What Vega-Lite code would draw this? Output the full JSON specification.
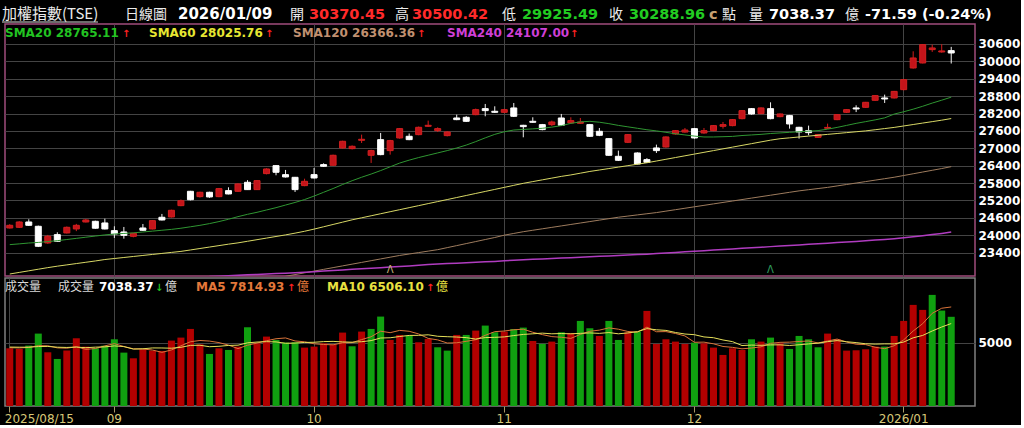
{
"$schema":"https://vega.github.io/schema/vega-lite/v6.json",
"background":"#000000",
"padding":{"left":0,"top":5,"right":0,"bottom":0},
"bounds":"flush",
"spacing":2,
"config":{"view":{"stroke":null},"font":"DejaVu Sans","axis":{"labelFont":"DejaVu Sans","labelOverlap":false}},
"datasets":{
"one":[{}],
"k":[
{"d":"2025/08/15","o":24249,"h":24380,"l":24230,"c":24341,"v":4554,"vd":"up","s20":23674,"s60":22660,"s120":null,"s240":null,"m5":4600,"m10":4650},
{"d":"2025/08/18","o":24272,"h":24480,"l":24250,"c":24456,"v":4502,"vd":"up","s20":23700,"s60":22715,"s120":null,"s240":null,"m5":4580,"m10":4640},
{"d":"2025/08/19","o":24456,"h":24548,"l":24320,"c":24341,"v":4765,"vd":"down","s20":23730,"s60":22770,"s120":null,"s240":null,"m5":4620,"m10":4640},
{"d":"2025/08/20","o":24307,"h":24330,"l":23590,"c":23617,"v":5713,"vd":"down","s20":23750,"s60":22825,"s120":null,"s240":null,"m5":4760,"m10":4690},
{"d":"2025/08/21","o":23731,"h":24010,"l":23700,"c":23962,"v":4238,"vd":"up","s20":23780,"s60":22880,"s120":null,"s240":null,"m5":4754,"m10":4700},
{"d":"2025/08/22","o":24019,"h":24100,"l":23770,"c":23789,"v":3712,"vd":"down","s20":23810,"s60":22930,"s120":null,"s240":null,"m5":4586,"m10":4640},
{"d":"2025/08/25","o":24077,"h":24300,"l":24060,"c":24272,"v":4370,"vd":"up","s20":23850,"s60":22975,"s120":null,"s240":null,"m5":4560,"m10":4620},
{"d":"2025/08/26","o":24215,"h":24390,"l":24140,"c":24341,"v":5344,"vd":"up","s20":23890,"s60":23020,"s120":null,"s240":null,"m5":4675,"m10":4650},
{"d":"2025/08/27","o":24456,"h":24560,"l":24440,"c":24525,"v":4686,"vd":"up","s20":23930,"s60":23065,"s120":null,"s240":null,"m5":4470,"m10":4600},
{"d":"2025/08/28","o":24479,"h":24500,"l":24220,"c":24240,"v":4554,"vd":"down","s20":23970,"s60":23110,"s120":null,"s240":null,"m5":4533,"m10":4644},
{"d":"2025/08/29","o":24422,"h":24571,"l":24200,"c":24215,"v":4765,"vd":"down","s20":24010,"s60":23160,"s120":null,"s240":null,"m5":4744,"m10":4665},
{"d":"2025/09/01","o":24157,"h":24307,"l":23904,"c":24042,"v":5265,"vd":"down","s20":24040,"s60":23195,"s120":null,"s240":null,"m5":4923,"m10":4742},
{"d":"2025/09/02","o":24111,"h":24284,"l":23881,"c":23996,"v":4212,"vd":"down","s20":24060,"s60":23230,"s120":null,"s240":null,"m5":4696,"m10":4686},
{"d":"2025/09/03","o":23960,"h":24080,"l":23927,"c":24065,"v":3764,"vd":"up","s20":24080,"s60":23265,"s120":null,"s240":null,"m5":4512,"m10":4491},
{"d":"2025/09/04","o":24249,"h":24387,"l":24150,"c":24169,"v":4475,"vd":"up","s20":24110,"s60":23300,"s120":null,"s240":null,"m5":4496,"m10":4515},
{"d":"2025/09/05","o":24215,"h":24520,"l":24200,"c":24502,"v":4370,"vd":"up","s20":24140,"s60":23335,"s120":null,"s240":null,"m5":4417,"m10":4581},
{"d":"2025/09/08","o":24618,"h":24733,"l":24510,"c":24525,"v":4343,"vd":"up","s20":24170,"s60":23370,"s120":null,"s240":null,"m5":4233,"m10":4578},
{"d":"2025/09/09","o":24629,"h":24880,"l":24610,"c":24859,"v":5160,"vd":"up","s20":24200,"s60":23405,"s120":null,"s240":null,"m5":4422,"m10":4559},
{"d":"2025/09/10","o":25020,"h":25230,"l":25000,"c":25190,"v":5397,"vd":"up","s20":24240,"s60":23440,"s120":null,"s240":null,"m5":4749,"m10":4631},
{"d":"2025/09/11","o":25515,"h":25530,"l":25200,"c":25225,"v":6081,"vd":"up","s20":24290,"s60":23490,"s120":null,"s240":null,"m5":5070,"m10":4783},
{"d":"2025/09/12","o":25331,"h":25500,"l":25300,"c":25481,"v":4870,"vd":"up","s20":24340,"s60":23540,"s120":null,"s240":null,"m5":5170,"m10":4794},
{"d":"2025/09/15","o":25481,"h":25500,"l":25290,"c":25320,"v":4107,"vd":"down","s20":24400,"s60":23590,"s120":null,"s240":22570,"m5":5123,"m10":4678},
{"d":"2025/09/16","o":25331,"h":25630,"l":25310,"c":25607,"v":4554,"vd":"up","s20":24470,"s60":23640,"s120":null,"s240":22585,"m5":5002,"m10":4712},
{"d":"2025/09/17","o":25538,"h":25653,"l":25410,"c":25423,"v":4423,"vd":"down","s20":24550,"s60":23690,"s120":null,"s240":22600,"m5":4807,"m10":4778},
{"d":"2025/09/18","o":25515,"h":25790,"l":25500,"c":25768,"v":4686,"vd":"up","s20":24640,"s60":23735,"s120":null,"s240":22615,"m5":4528,"m10":4799},
{"d":"2025/09/19","o":25826,"h":25900,"l":25560,"c":25573,"v":6213,"vd":"down","s20":24720,"s60":23790,"s120":null,"s240":22630,"m5":4797,"m10":4984},
{"d":"2025/09/22","o":25573,"h":25900,"l":25560,"c":25883,"v":4949,"vd":"up","s20":24790,"s60":23845,"s120":null,"s240":22645,"m5":4965,"m10":5044},
{"d":"2025/09/23","o":26125,"h":26310,"l":26100,"c":26286,"v":5476,"vd":"up","s20":24870,"s60":23900,"s120":null,"s240":22660,"m5":5149,"m10":5076},
{"d":"2025/09/24","o":26401,"h":26420,"l":26068,"c":26171,"v":5212,"vd":"down","s20":24950,"s60":23955,"s120":22530,"s240":22675,"m5":5307,"m10":5057},
{"d":"2025/09/25","o":26090,"h":26252,"l":25990,"c":26010,"v":5002,"vd":"down","s20":25040,"s60":24010,"s120":22580,"s240":22690,"m5":5370,"m10":4949},
{"d":"2025/09/26","o":25998,"h":26010,"l":25492,"c":25573,"v":5028,"vd":"down","s20":25130,"s60":24070,"s120":22640,"s240":22705,"m5":5133,"m10":4965},
{"d":"2025/09/30","o":25711,"h":25950,"l":25690,"c":25860,"v":4607,"vd":"up","s20":25230,"s60":24135,"s120":22700,"s240":22720,"m5":5065,"m10":5015},
{"d":"2025/10/01","o":26090,"h":26321,"l":25960,"c":25975,"v":4686,"vd":"up","s20":25350,"s60":24210,"s120":22760,"s240":22740,"m5":4907,"m10":5028},
{"d":"2025/10/02","o":26436,"h":26480,"l":26360,"c":26378,"v":4949,"vd":"up","s20":25480,"s60":24290,"s120":22820,"s240":22760,"m5":4854,"m10":5081},
{"d":"2025/10/03","o":26413,"h":26780,"l":26400,"c":26758,"v":4870,"vd":"up","s20":25610,"s60":24370,"s120":22880,"s240":22780,"m5":4828,"m10":5099},
{"d":"2025/10/07","o":27011,"h":27260,"l":26990,"c":27241,"v":5792,"vd":"up","s20":25750,"s60":24450,"s120":22940,"s240":22800,"m5":4981,"m10":5057},
{"d":"2025/10/08","o":26988,"h":27100,"l":26960,"c":27068,"v":4712,"vd":"down","s20":25880,"s60":24530,"s120":23000,"s240":22820,"m5":5002,"m10":5034},
{"d":"2025/10/09","o":27275,"h":27471,"l":27183,"c":27310,"v":5871,"vd":"up","s20":26000,"s60":24600,"s120":23060,"s240":22840,"m5":5239,"m10":5073},
{"d":"2025/10/13","o":26758,"h":26950,"l":26493,"c":26919,"v":6081,"vd":"down","s20":26110,"s60":24670,"s120":23120,"s240":22860,"m5":5465,"m10":5160},
{"d":"2025/10/14","o":27298,"h":27529,"l":26760,"c":26781,"v":7056,"vd":"down","s20":26230,"s60":24740,"s120":23180,"s240":22880,"m5":5902,"m10":5365},
{"d":"2025/10/15","o":26919,"h":27290,"l":26780,"c":27264,"v":5212,"vd":"up","s20":26360,"s60":24810,"s120":23240,"s240":22900,"m5":5786,"m10":5384},
{"d":"2025/10/16","o":27356,"h":27700,"l":27330,"c":27678,"v":5607,"vd":"up","s20":26490,"s60":24880,"s120":23300,"s240":22920,"m5":5965,"m10":5484},
{"d":"2025/10/17","o":27414,"h":27510,"l":27280,"c":27298,"v":5528,"vd":"down","s20":26590,"s60":24950,"s120":23350,"s240":22940,"m5":5897,"m10":5568},
{"d":"2025/10/20","o":27471,"h":27750,"l":27450,"c":27724,"v":5028,"vd":"up","s20":26680,"s60":25020,"s120":23400,"s240":22960,"m5":5686,"m10":5576},
{"d":"2025/10/21","o":27759,"h":27954,"l":27740,"c":27793,"v":5291,"vd":"up","s20":26760,"s60":25090,"s120":23450,"s240":22985,"m5":5333,"m10":5618},
{"d":"2025/10/22","o":27609,"h":27724,"l":27563,"c":27678,"v":4633,"vd":"down","s20":26840,"s60":25160,"s120":23500,"s240":23005,"m5":5217,"m10":5502},
{"d":"2025/10/23","o":27437,"h":27590,"l":27410,"c":27563,"v":4370,"vd":"down","s20":26920,"s60":25230,"s120":23570,"s240":23020,"m5":4970,"m10":5468},
{"d":"2025/10/27","o":28046,"h":28161,"l":27970,"c":27989,"v":5607,"vd":"up","s20":27010,"s60":25300,"s120":23640,"s240":23035,"m5":4986,"m10":5442},
{"d":"2025/10/28","o":28069,"h":28110,"l":27910,"c":27931,"v":5607,"vd":"down","s20":27110,"s60":25370,"s120":23710,"s240":23050,"m5":5102,"m10":5394},
{"d":"2025/10/29","o":28161,"h":28370,"l":28140,"c":28334,"v":5950,"vd":"up","s20":27230,"s60":25440,"s120":23780,"s240":23065,"m5":5233,"m10":5283},
{"d":"2025/10/30","o":28369,"h":28530,"l":28104,"c":28300,"v":6345,"vd":"down","s20":27360,"s60":25510,"s120":23850,"s240":23080,"m5":5576,"m10":5397},
{"d":"2025/10/31","o":28277,"h":28449,"l":28220,"c":28242,"v":5818,"vd":"down","s20":27480,"s60":25580,"s120":23920,"s240":23095,"m5":5865,"m10":5418},
{"d":"2025/11/03","o":28242,"h":28360,"l":28220,"c":28334,"v":5871,"vd":"up","s20":27570,"s60":25650,"s120":24000,"s240":23115,"m5":5918,"m10":5452},
{"d":"2025/11/04","o":28392,"h":28564,"l":28080,"c":28104,"v":6081,"vd":"down","s20":27630,"s60":25720,"s120":24060,"s240":23135,"m5":6013,"m10":5558},
{"d":"2025/11/05","o":27793,"h":27810,"l":27379,"c":27747,"v":6187,"vd":"down","s20":27650,"s60":25790,"s120":24120,"s240":23150,"m5":6060,"m10":5647},
{"d":"2025/11/06","o":27931,"h":28069,"l":27880,"c":27897,"v":5133,"vd":"up","s20":27670,"s60":25850,"s120":24170,"s240":23165,"m5":5818,"m10":5697},
{"d":"2025/11/07","o":27816,"h":27840,"l":27620,"c":27644,"v":4897,"vd":"down","s20":27690,"s60":25910,"s120":24220,"s240":23180,"m5":5634,"m10":5750},
{"d":"2025/11/10","o":27816,"h":27954,"l":27770,"c":27908,"v":5081,"vd":"up","s20":27730,"s60":25970,"s120":24270,"s240":23195,"m5":5476,"m10":5697},
{"d":"2025/11/11","o":28046,"h":28185,"l":27770,"c":27793,"v":5818,"vd":"down","s20":27780,"s60":26030,"s120":24320,"s240":23210,"m5":5423,"m10":5718},
{"d":"2025/11/12","o":27874,"h":28069,"l":27850,"c":27954,"v":5739,"vd":"up","s20":27860,"s60":26080,"s120":24370,"s240":23225,"m5":5334,"m10":5697},
{"d":"2025/11/13","o":27862,"h":28046,"l":27840,"c":27908,"v":6713,"vd":"down","s20":27910,"s60":26140,"s120":24420,"s240":23240,"m5":5650,"m10":5734},
{"d":"2025/11/14","o":27816,"h":27840,"l":27390,"c":27414,"v":6134,"vd":"down","s20":27930,"s60":26200,"s120":24470,"s240":23255,"m5":5897,"m10":5766},
{"d":"2025/11/17","o":27586,"h":27701,"l":27420,"c":27448,"v":5528,"vd":"up","s20":27900,"s60":26250,"s120":24520,"s240":23270,"m5":5986,"m10":5731},
{"d":"2025/11/18","o":27333,"h":27350,"l":26740,"c":26758,"v":6713,"vd":"down","s20":27850,"s60":26300,"s120":24570,"s240":23285,"m5":6165,"m10":5794},
{"d":"2025/11/19","o":26723,"h":26919,"l":26560,"c":26585,"v":5212,"vd":"down","s20":27790,"s60":26350,"s120":24620,"s240":23300,"m5":6060,"m10":5697},
{"d":"2025/11/20","o":27206,"h":27490,"l":27180,"c":27471,"v":5818,"vd":"up","s20":27740,"s60":26400,"s120":24660,"s240":23315,"m5":5881,"m10":5766},
{"d":"2025/11/21","o":26838,"h":26860,"l":26440,"c":26458,"v":5871,"vd":"down","s20":27690,"s60":26450,"s120":24700,"s240":23330,"m5":5828,"m10":5863},
{"d":"2025/11/24","o":26608,"h":26660,"l":26490,"c":26516,"v":7503,"vd":"up","s20":27640,"s60":26500,"s120":24740,"s240":23345,"m5":6223,"m10":6105},
{"d":"2025/11/25","o":27011,"h":27126,"l":26838,"c":26919,"v":4897,"vd":"up","s20":27600,"s60":26560,"s120":24780,"s240":23365,"m5":5860,"m10":6013},
{"d":"2025/11/26","o":27045,"h":27410,"l":27020,"c":27391,"v":5265,"vd":"up","s20":27550,"s60":26620,"s120":24830,"s240":23385,"m5":5871,"m10":5966},
{"d":"2025/11/27","o":27494,"h":27630,"l":27470,"c":27609,"v":5081,"vd":"up","s20":27500,"s60":26680,"s120":24880,"s240":23405,"m5":5723,"m10":5802},
{"d":"2025/11/28","o":27560,"h":27700,"l":27540,"c":27630,"v":4897,"vd":"up","s20":27460,"s60":26740,"s120":24930,"s240":23425,"m5":5529,"m10":5679},
{"d":"2025/12/01","o":27678,"h":27700,"l":27330,"c":27356,"v":5002,"vd":"down","s20":27420,"s60":26800,"s120":24980,"s240":23445,"m5":5028,"m10":5626},
{"d":"2025/12/02","o":27528,"h":27701,"l":27500,"c":27609,"v":4949,"vd":"up","s20":27390,"s60":26860,"s120":25030,"s240":23465,"m5":5039,"m10":5450},
{"d":"2025/12/03","o":27609,"h":27800,"l":27590,"c":27782,"v":4607,"vd":"up","s20":27390,"s60":26920,"s120":25080,"s240":23485,"m5":4907,"m10":5389},
{"d":"2025/12/04","o":27759,"h":27908,"l":27678,"c":27816,"v":4028,"vd":"up","s20":27400,"s60":26980,"s120":25130,"s240":23505,"m5":4697,"m10":5210},
{"d":"2025/12/05","o":27782,"h":28010,"l":27760,"c":27989,"v":4554,"vd":"up","s20":27410,"s60":27040,"s120":25180,"s240":23525,"m5":4628,"m10":5079},
{"d":"2025/12/08","o":28023,"h":28320,"l":28000,"c":28299,"v":4423,"vd":"up","s20":27440,"s60":27100,"s120":25230,"s240":23545,"m5":4512,"m10":4770},
{"d":"2025/12/09","o":28368,"h":28390,"l":28160,"c":28184,"v":5265,"vd":"down","s20":27460,"s60":27160,"s120":25280,"s240":23565,"m5":4575,"m10":4807},
{"d":"2025/12/10","o":28196,"h":28410,"l":28180,"c":28392,"v":5081,"vd":"up","s20":27480,"s60":27220,"s120":25330,"s240":23585,"m5":4670,"m10":4789},
{"d":"2025/12/11","o":28368,"h":28587,"l":28000,"c":28023,"v":5397,"vd":"down","s20":27510,"s60":27280,"s120":25380,"s240":23605,"m5":4944,"m10":4821},
{"d":"2025/12/12","o":28092,"h":28200,"l":28070,"c":28184,"v":4949,"vd":"up","s20":27530,"s60":27330,"s120":25430,"s240":23625,"m5":5023,"m10":4826},
{"d":"2025/12/15","o":28127,"h":28150,"l":27678,"c":27839,"v":4502,"vd":"down","s20":27550,"s60":27360,"s120":25480,"s240":23645,"m5":5039,"m10":4776},
{"d":"2025/12/16","o":27724,"h":27740,"l":27333,"c":27563,"v":5528,"vd":"down","s20":27570,"s60":27390,"s120":25530,"s240":23665,"m5":5091,"m10":4833},
{"d":"2025/12/17","o":27609,"h":27782,"l":27448,"c":27540,"v":5265,"vd":"down","s20":27590,"s60":27420,"s120":25570,"s240":23685,"m5":5128,"m10":4899},
{"d":"2025/12/18","o":27379,"h":27490,"l":27360,"c":27471,"v":4633,"vd":"down","s20":27610,"s60":27450,"s120":25610,"s240":23705,"m5":4975,"m10":4960},
{"d":"2025/12/19","o":27690,"h":27850,"l":27670,"c":27720,"v":5713,"vd":"up","s20":27660,"s60":27480,"s120":25650,"s240":23725,"m5":5128,"m10":5076},
{"d":"2025/12/22","o":27989,"h":28180,"l":27970,"c":28161,"v":5265,"vd":"up","s20":27720,"s60":27510,"s120":25700,"s240":23745,"m5":5281,"m10":5160},
{"d":"2025/12/23","o":28242,"h":28350,"l":28220,"c":28334,"v":4370,"vd":"up","s20":27790,"s60":27540,"s120":25750,"s240":23765,"m5":5049,"m10":5070},
{"d":"2025/12/24","o":28392,"h":28484,"l":28250,"c":28357,"v":4396,"vd":"up","s20":27860,"s60":27570,"s120":25800,"s240":23785,"m5":4875,"m10":5002},
{"d":"2025/12/26","o":28414,"h":28600,"l":28400,"c":28587,"v":4475,"vd":"up","s20":27920,"s60":27600,"s120":25850,"s240":23805,"m5":4844,"m10":4910},
{"d":"2025/12/29","o":28656,"h":28830,"l":28640,"c":28817,"v":4686,"vd":"up","s20":27980,"s60":27640,"s120":25900,"s240":23830,"m5":4638,"m10":4883},
{"d":"2025/12/30","o":28737,"h":28852,"l":28564,"c":28702,"v":4686,"vd":"down","s20":28050,"s60":27680,"s120":25950,"s240":23855,"m5":4523,"m10":4902},
{"d":"2025/12/31","o":28737,"h":28980,"l":28720,"c":28964,"v":5528,"vd":"up","s20":28180,"s60":27720,"s120":26000,"s240":23880,"m5":4754,"m10":4902},
{"d":"2026/01/02","o":29024,"h":29380,"l":29000,"c":29369,"v":6713,"vd":"up","s20":28260,"s60":27770,"s120":26060,"s240":23910,"m5":5218,"m10":5047},
{"d":"2026/01/05","o":29772,"h":30348,"l":29750,"c":30117,"v":7977,"vd":"up","s20":28350,"s60":27820,"s120":26120,"s240":23945,"m5":5918,"m10":5381},
{"d":"2026/01/06","o":29945,"h":30600,"l":29930,"c":30578,"v":7582,"vd":"up","s20":28450,"s60":27870,"s120":26180,"s240":23980,"m5":6497,"m10":5568},
{"d":"2026/01/07","o":30405,"h":30578,"l":30327,"c":30463,"v":8767,"vd":"down","s20":28560,"s60":27920,"s120":26240,"s240":24020,"m5":7313,"m10":5918},
{"d":"2026/01/08","o":30325,"h":30590,"l":30300,"c":30360.55,"v":7530,"vd":"down","s20":28660,"s60":27970,"s120":26300,"s240":24060,"m5":7714,"m10":6234},
{"d":"2026/01/09","o":30370.45,"h":30500.42,"l":29925.49,"c":30288.96,"v":7038.37,"vd":"down","s20":28765.11,"s60":28025.76,"s120":26366.36,"s240":24107,"m5":7814.93,"m10":6506.1}
]},
"vconcat":[
{
"width":970,"height":252,
"view":{"stroke":"#a04c7c","strokeWidth":1.5},
"layer":[
{"data":{"name":"k"},"mark":{"type":"rule","strokeWidth":1},
 "encoding":{
  "x":{"field":"d","type":"ordinal","scale":{"type":"band","paddingInner":0,"paddingOuter":1.6,"align":0},
       "axis":{"title":null,"values":["2025/09/01","2025/10/01","2025/11/03","2025/12/01","2026/01/02"],"grid":true,"gridColor":"#444444","labels":false,"ticks":false,"domain":false,"bandPosition":0.5}},
  "y":{"field":"l","type":"quantitative","scale":{"domain":[22591,31290],"nice":false,"zero":false},
       "axis":{"title":null,"orient":"right","values":[23400,24000,24600,25200,25800,26400,27000,27600,28200,28800,29400,30000,30600],"tickCount":20,"format":"d","labelOverlap":false,"grid":true,"gridColor":"#444444","ticks":false,"domain":false,"labelColor":"#ffffff","labelFontWeight":"bold","labelFontSize":12,"labelPadding":3}},
  "y2":{"field":"h"},
  "color":{"condition":{"test":"datum.c >= datum.o","value":"#d41c1c"},"value":"#f2f2f2"}}},
{"data":{"name":"k"},"mark":{"type":"bar","width":6,"strokeWidth":1},
 "encoding":{
  "x":{"field":"d","type":"ordinal"},
  "y":{"field":"o","type":"quantitative"},
  "y2":{"field":"c"},
  "fill":{"condition":{"test":"datum.c >= datum.o","value":"#c4141a"},"value":"#ffffff"},
  "stroke":{"condition":{"test":"datum.c >= datum.o","value":"#d42020"},"value":"#ffffff"}}},
{"data":{"name":"k"},"mark":{"type":"line","strokeWidth":1,"clip":true,"color":"#2f9632"},
 "encoding":{"x":{"field":"d","type":"ordinal"},"y":{"field":"s20","type":"quantitative"}}},
{"data":{"name":"k"},"mark":{"type":"line","strokeWidth":1,"clip":true,"color":"#d8d866"},
 "encoding":{"x":{"field":"d","type":"ordinal"},"y":{"field":"s60","type":"quantitative"}}},
{"data":{"name":"k"},"mark":{"type":"line","strokeWidth":1,"clip":true,"color":"#9e7c5e"},
 "encoding":{"x":{"field":"d","type":"ordinal"},"y":{"field":"s120","type":"quantitative"}}},
{"data":{"name":"k"},"mark":{"type":"line","strokeWidth":1.5,"clip":true,"color":"#b03cc0"},
 "encoding":{"x":{"field":"d","type":"ordinal"},"y":{"field":"s240","type":"quantitative"}}},
{"data":{"values":[{"d":"2025/10/15"}]},"mark":{"type":"text","text":"Λ","color":"#c8b078","fontSize":10,"baseline":"bottom"},
 "encoding":{"x":{"field":"d","type":"ordinal"},"y":{"datum":22620,"type":"quantitative"}}},
{"data":{"values":[{"d":"2025/12/11"}]},"mark":{"type":"text","text":"Λ","color":"#30a060","fontSize":10,"baseline":"bottom"},
 "encoding":{"x":{"field":"d","type":"ordinal"},"y":{"datum":22620,"type":"quantitative"}}},
{"data":{"name":"one"},"mark":{"type":"text","text":"加權指數(TSE)","x":-3,"y":-5.5,"align":"left","baseline":"alphabetic","font":"Noto Sans CJK TC","fontSize":15,"color":"#ececec"}},
{"data":{"name":"one"},"mark":{"type":"rule","color":"#d8d8d8","strokeWidth":1},"encoding":{"x":{"value":-3},"x2":{"value":93},"y":{"value":-2}}},
{"data":{"name":"one"},"mark":{"type":"text","text":"日線圖","x":120,"y":-5.5,"align":"left","baseline":"alphabetic","font":"Noto Sans CJK TC","fontSize":14,"color":"#ececec"}},
{"data":{"name":"one"},"mark":{"type":"text","text":"2026/01/09","x":173,"y":-5.5,"align":"left","baseline":"alphabetic","fontSize":15,"fontWeight":"bold","color":"#ffffff"}},
{"data":{"name":"one"},"mark":{"type":"text","text":"開","x":285,"y":-5.5,"align":"left","baseline":"alphabetic","font":"Noto Sans CJK TC","fontSize":14,"color":"#ececec"}},
{"data":{"name":"one"},"mark":{"type":"text","text":"30370.45","x":304,"y":-5.5,"align":"left","baseline":"alphabetic","fontSize":14.5,"fontWeight":"bold","color":"#ff2a2a"}},
{"data":{"name":"one"},"mark":{"type":"text","text":"高","x":390,"y":-5.5,"align":"left","baseline":"alphabetic","font":"Noto Sans CJK TC","fontSize":14,"color":"#ececec"}},
{"data":{"name":"one"},"mark":{"type":"text","text":"30500.42","x":407,"y":-5.5,"align":"left","baseline":"alphabetic","fontSize":14.5,"fontWeight":"bold","color":"#ff2a2a"}},
{"data":{"name":"one"},"mark":{"type":"text","text":"低","x":497,"y":-5.5,"align":"left","baseline":"alphabetic","font":"Noto Sans CJK TC","fontSize":14,"color":"#ececec"}},
{"data":{"name":"one"},"mark":{"type":"text","text":"29925.49","x":517,"y":-5.5,"align":"left","baseline":"alphabetic","fontSize":14.5,"fontWeight":"bold","color":"#22cc22"}},
{"data":{"name":"one"},"mark":{"type":"text","text":"收","x":604,"y":-5.5,"align":"left","baseline":"alphabetic","font":"Noto Sans CJK TC","fontSize":14,"color":"#ececec"}},
{"data":{"name":"one"},"mark":{"type":"text","text":"30288.96","x":624,"y":-5.5,"align":"left","baseline":"alphabetic","fontSize":14.5,"fontWeight":"bold","color":"#22cc22"}},
{"data":{"name":"one"},"mark":{"type":"text","text":"c","x":704,"y":-5.5,"align":"left","baseline":"alphabetic","fontSize":14.5,"fontWeight":"bold","color":"#c8a070"}},
{"data":{"name":"one"},"mark":{"type":"text","text":"點","x":717,"y":-5.5,"align":"left","baseline":"alphabetic","font":"Noto Sans CJK TC","fontSize":14,"color":"#ececec"}},
{"data":{"name":"one"},"mark":{"type":"text","text":"量","x":744,"y":-5.5,"align":"left","baseline":"alphabetic","font":"Noto Sans CJK TC","fontSize":14,"color":"#ececec"}},
{"data":{"name":"one"},"mark":{"type":"text","text":"7038.37","x":764,"y":-5.5,"align":"left","baseline":"alphabetic","fontSize":14.5,"fontWeight":"bold","color":"#ffffff"}},
{"data":{"name":"one"},"mark":{"type":"text","text":"億","x":840,"y":-5.5,"align":"left","baseline":"alphabetic","font":"Noto Sans CJK TC","fontSize":14,"color":"#ececec"}},
{"data":{"name":"one"},"mark":{"type":"text","text":"-71.59 (-0.24%)","x":860,"y":-5.5,"align":"left","baseline":"alphabetic","fontSize":14.5,"fontWeight":"bold","color":"#ffffff"}},
{"data":{"name":"one"},"mark":{"type":"text","text":"SMA20 28765.11","x":0,"y":13.3,"align":"left","baseline":"alphabetic","fontSize":12,"fontWeight":"bold","color":"#22c322"}},
{"data":{"name":"one"},"mark":{"type":"text","text":"↑","x":117,"y":13.3,"align":"left","baseline":"alphabetic","fontSize":10,"fontWeight":"bold","color":"#ff2020"}},
{"data":{"name":"one"},"mark":{"type":"text","text":"SMA60 28025.76","x":144,"y":13.3,"align":"left","baseline":"alphabetic","fontSize":12,"fontWeight":"bold","color":"#e6e632"}},
{"data":{"name":"one"},"mark":{"type":"text","text":"↑","x":260,"y":13.3,"align":"left","baseline":"alphabetic","fontSize":10,"fontWeight":"bold","color":"#ff2020"}},
{"data":{"name":"one"},"mark":{"type":"text","text":"SMA120 26366.36","x":288,"y":13.3,"align":"left","baseline":"alphabetic","fontSize":12,"fontWeight":"bold","color":"#c09070"}},
{"data":{"name":"one"},"mark":{"type":"text","text":"↑","x":412,"y":13.3,"align":"left","baseline":"alphabetic","fontSize":10,"fontWeight":"bold","color":"#ff2020"}},
{"data":{"name":"one"},"mark":{"type":"text","text":"SMA240 24107.00","x":442,"y":13.3,"align":"left","baseline":"alphabetic","fontSize":12,"fontWeight":"bold","color":"#cf3fd6"}},
{"data":{"name":"one"},"mark":{"type":"text","text":"↑","x":565,"y":13.3,"align":"left","baseline":"alphabetic","fontSize":10,"fontWeight":"bold","color":"#ff2020"}}
]},
{
"width":970,"height":128,
"view":{"stroke":"#808080","strokeWidth":1.5},
"layer":[
{"data":{"name":"k"},"mark":{"type":"bar","width":7},
 "encoding":{
  "x":{"field":"d","type":"ordinal","scale":{"type":"band","paddingInner":0,"paddingOuter":1.6,"align":0},
       "axis":{"title":null,"values":["2025/08/15","2025/09/01","2025/10/01","2025/11/03","2025/12/01","2026/01/02"],
               "labelExpr":"datum.value == '2025/08/15' ? '2025/08/15' : datum.value == '2026/01/02' ? '2026/01' : substring(datum.value, 5, 7)",
               "grid":true,"gridColor":"#444444","domain":false,"ticks":true,"tickColor":"#a89868","tickSize":6,"labelColor":"#d8c878","labelFontSize":12,"labelPadding":1,"labelAngle":0,"labelOverlap":false,"bandPosition":0.5,
               "labelAlign":{"condition":{"test":"datum.value == '2025/08/15'","value":"left"},"value":"center"},
               "labelOffset":{"condition":{"test":"datum.value == '2025/08/15'","value":-5},"value":0}}},
  "y":{"field":"v","type":"quantitative","scale":{"domain":[0,10100],"nice":false},
       "axis":{"title":null,"orient":"right","values":[5000],"format":"d","grid":true,"gridColor":"#444444","ticks":false,"domain":false,"labelColor":"#ffffff","labelFontWeight":"bold","labelFontSize":12,"labelPadding":3}},
  "color":{"condition":{"test":"datum.vd == 'up'","value":"#b30000"},"value":"#10a010"}}},
{"data":{"name":"k"},"mark":{"type":"line","strokeWidth":1,"clip":true,"color":"#d9743a"},
 "encoding":{"x":{"field":"d","type":"ordinal"},"y":{"field":"m5","type":"quantitative"}}},
{"data":{"name":"k"},"mark":{"type":"line","strokeWidth":1,"clip":true,"color":"#e6e05a"},
 "encoding":{"x":{"field":"d","type":"ordinal"},"y":{"field":"m10","type":"quantitative"}}},
{"data":{"name":"one"},"mark":{"type":"text","text":"成交量","x":0,"y":12.8,"align":"left","baseline":"alphabetic","font":"Noto Sans CJK TC","fontSize":12,"color":"#d8d8d8"}},
{"data":{"name":"one"},"mark":{"type":"text","text":"成交量","x":53,"y":12.8,"align":"left","baseline":"alphabetic","font":"Noto Sans CJK TC","fontSize":12,"color":"#d8d8d8"}},
{"data":{"name":"one"},"mark":{"type":"text","text":"7038.37","x":94,"y":12.8,"align":"left","baseline":"alphabetic","fontSize":12,"fontWeight":"bold","color":"#ffffff"}},
{"data":{"name":"one"},"mark":{"type":"text","text":"↓","x":150,"y":12.8,"align":"left","baseline":"alphabetic","fontSize":10,"fontWeight":"bold","color":"#22c322"}},
{"data":{"name":"one"},"mark":{"type":"text","text":"億","x":160,"y":12.8,"align":"left","baseline":"alphabetic","font":"Noto Sans CJK TC","fontSize":12,"color":"#d8d8d8"}},
{"data":{"name":"one"},"mark":{"type":"text","text":"MA5 7814.93","x":191,"y":12.8,"align":"left","baseline":"alphabetic","fontSize":12,"fontWeight":"bold","color":"#e4783a"}},
{"data":{"name":"one"},"mark":{"type":"text","text":"↑","x":282,"y":12.8,"align":"left","baseline":"alphabetic","fontSize":10,"fontWeight":"bold","color":"#ff2020"}},
{"data":{"name":"one"},"mark":{"type":"text","text":"億","x":292,"y":12.8,"align":"left","baseline":"alphabetic","font":"Noto Sans CJK TC","fontSize":12,"color":"#e4783a"}},
{"data":{"name":"one"},"mark":{"type":"text","text":"MA10 6506.10","x":322,"y":12.8,"align":"left","baseline":"alphabetic","fontSize":12,"fontWeight":"bold","color":"#e8e040"}},
{"data":{"name":"one"},"mark":{"type":"text","text":"↑","x":421,"y":12.8,"align":"left","baseline":"alphabetic","fontSize":10,"fontWeight":"bold","color":"#ff2020"}},
{"data":{"name":"one"},"mark":{"type":"text","text":"億","x":431,"y":12.8,"align":"left","baseline":"alphabetic","font":"Noto Sans CJK TC","fontSize":12,"color":"#e8e040"}}
]}
]
}
